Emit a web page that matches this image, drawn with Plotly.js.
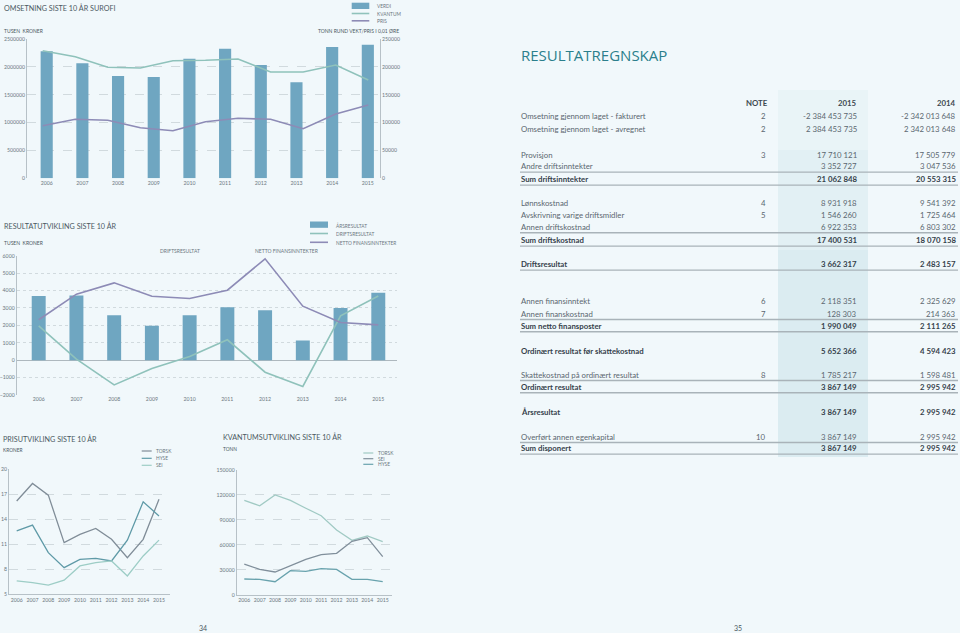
<!DOCTYPE html>
<html>
<head>
<meta charset="utf-8">
<script src="https://cdn.plot.ly/plotly-3.0.1.min.js"></script>
<style>
html,body{margin:0;padding:0;background:#f1f8fb;}
#chart{width:960px;height:633px;}
</style>
</head>
<body>
<div id="chart"></div>
<script>
// ---------- DATA ----------
const years = [2006, 2007, 2008, 2009, 2010, 2011, 2012, 2013, 2014, 2015];
const yearLabels = ['2006','2007','2008','2009','2010','2011','2012','2013','2014','2015'];

// Omsetning siste 10 år Surofi
const verdi = [2279000, 2064000, 1836000, 1818000, 2146000, 2326000, 2033000, 1723000, 2356000, 2398000];
const lineYears = [2006, 2007, 2008, 2009, 2010, 2011, 2012, 2013, 2014, 2015, 2016];
const kvantum = [229000, 218200, 199200, 197900, 211000, 211800, 214100, 190800, 190800, 203400, 176600];
const pris = [94400, 105900, 104100, 90800, 85400, 101600, 107700, 105900, 89000, 115400, 131500];

// Resultatutvikling siste 10 år
const aarsresultat = [3690, 3710, 2580, 1970, 2580, 3040, 2870, 1130, 3000, 3870];
const driftsresultat = [1970, 60, -1420, -480, 210, 1170, -690, -1510, 2550, 3690];
const nettoFinans = [2320, 3790, 4440, 3670, 3540, 4020, 5820, 3100, 2160, 2030];

// Prisutvikling siste 10 år (kroner)
const prisTorsk = [16.2, 18.3, 16.9, 11.2, 12.2, 12.9, 11.6, 9.4, 11.6, 16.4];
const prisHyse = [12.6, 13.3, 10.0, 8.2, 9.2, 9.3, 9.0, 11.5, 16.1, 14.4];
const prisSei = [6.6, 6.4, 6.1, 6.7, 8.4, 8.8, 9.0, 7.2, 9.6, 11.5];

// Kvantumsutvikling siste 10 år (tonn)
const tonnTorsk = [113500, 107000, 120000, 113500, 104000, 95000, 77800, 65400, 70600, 63800];
const tonnSei = [36900, 30500, 27300, 35300, 42500, 48100, 49700, 64200, 68600, 45700];
const tonnHyse = [18900, 18400, 15600, 28900, 28100, 31300, 30500, 18400, 18400, 15600];

// Resultatregnskap
const tableLabels = ['Omsetning gjennom laget - fakturert','Omsetning gjennom laget - avregnet','Provisjon','Andre driftsinntekter','Sum driftsinntekter','Lønnskostnad','Avskrivning varige driftsmidler','Annen driftskostnad','Sum driftskostnad','Driftsresultat','Annen finansinntekt','Annen finanskostnad','Sum netto finansposter','Ordinært resultat før skattekostnad','Skattekostnad på ordinært resultat','Ordinært resultat','Årsresultat','Overført annen egenkapital','Sum disponert'];
const tableNotes = ['2','2','3','','','4','5','','','','6','7','','','8','','','10',''];
const values2015 = [-2384453735, 2384453735, 17710121, 3352727, 21062848, 8931918, 1546260, 6922353, 17400531, 3662317, 2118351, 128303, 1990049, 5652366, 1785217, 3867149, 3867149, 3867149, 3867149];
const values2014 = [-2342013648, 2342013648, 17505779, 3047536, 20553315, 9541392, 1725464, 6803302, 18070158, 2483157, 2325629, 214363, 2111265, 4594423, 1598481, 2995942, 2995942, 2995942, 2995942];

// ---------- LAYOUT HELPERS ----------
const W = 960, H = 633;
const fx = x => x / W;
const fy = y => 1 - y / H;
const FONT = 'Lato, "Open Sans", sans-serif';
const C_BAR = '#6fa6c1';
const C_KV = '#8fc2bb';
const C_PRIS = '#8d8bb6';
const C_TXT = '#4b5862';
const C_TICK = '#6b7780';
const C_GRID = '#c9d2d7';
const C_AXIS = '#b7c1c7';

function fmt(n) {
  const s = Math.abs(n).toString().replace(/\B(?=(\d{3})+(?!\d))/g, ' ');
  return (n < 0 ? '-' : '') + s;
}

const tickFont = {family: FONT, size: 5.2, color: C_TICK};

const traces = [
  // chart 1
  {type: 'bar', x: years, y: verdi, xaxis: 'x', yaxis: 'y', width: 0.34, marker: {color: C_BAR}, name: 'VERDI'},
  {type: 'scatter', mode: 'lines', x: lineYears, y: kvantum, xaxis: 'x2', yaxis: 'y2', line: {color: C_KV, width: 1.6}, name: 'KVANTUM'},
  {type: 'scatter', mode: 'lines', x: lineYears, y: pris, xaxis: 'x2', yaxis: 'y2', line: {color: C_PRIS, width: 1.6}, name: 'PRIS'},
  // chart 2
  {type: 'bar', x: years, y: aarsresultat, xaxis: 'x3', yaxis: 'y3', width: 0.37, marker: {color: C_BAR}, name: 'ÅRSRESULTAT'},
  {type: 'scatter', mode: 'lines', x: years, y: driftsresultat, xaxis: 'x3', yaxis: 'y3', line: {color: C_KV, width: 1.6}, name: 'DRIFTSRESULTAT'},
  {type: 'scatter', mode: 'lines', x: years, y: nettoFinans, xaxis: 'x3', yaxis: 'y3', line: {color: C_PRIS, width: 1.6}, name: 'NETTO FINANSINNTEKTER'},
  // chart 3
  {type: 'scatter', mode: 'lines', x: years, y: prisTorsk, xaxis: 'x4', yaxis: 'y4', line: {color: '#808d98', width: 1.3}, name: 'TORSK'},
  {type: 'scatter', mode: 'lines', x: years, y: prisHyse, xaxis: 'x4', yaxis: 'y4', line: {color: '#5f9aa7', width: 1.3}, name: 'HYSE'},
  {type: 'scatter', mode: 'lines', x: years, y: prisSei, xaxis: 'x4', yaxis: 'y4', line: {color: '#9dcdc6', width: 1.3}, name: 'SEI'},
  // chart 4
  {type: 'scatter', mode: 'lines', x: years, y: tonnTorsk, xaxis: 'x5', yaxis: 'y5', line: {color: '#a1cac4', width: 1.3}, name: 'TORSK'},
  {type: 'scatter', mode: 'lines', x: years, y: tonnSei, xaxis: 'x5', yaxis: 'y5', line: {color: '#808f9b', width: 1.3}, name: 'SEI'},
  {type: 'scatter', mode: 'lines', x: years, y: tonnHyse, xaxis: 'x5', yaxis: 'y5', line: {color: '#68a2ad', width: 1.3}, name: 'HYSE'}
];

const xBase = {tickvals: years, ticktext: yearLabels, showgrid: false, zeroline: false, ticks: '', tickfont: tickFont, fixedrange: true};
const yBase = {showgrid: true, gridcolor: C_GRID, griddash: 'dash', gridwidth: 0.8, zeroline: false, showline: true, linecolor: C_AXIS, linewidth: 1, ticks: '', tickfont: tickFont, tickformat: 'd', fixedrange: true};

const layout = {
  width: W, height: H,
  margin: {l: 0, r: 0, t: 0, b: 0},
  paper_bgcolor: '#f1f8fb',
  plot_bgcolor: 'rgba(0,0,0,0)',
  showlegend: false,
  font: {family: FONT},
  xaxis: Object.assign({}, xBase, {domain: [fx(27), fx(380)], range: [2005.448, 2015.341], anchor: 'y'}),
  yaxis: Object.assign({}, yBase, {domain: [fy(178.3), fy(39)], range: [0, 2500000], dtick: 500000, anchor: 'x'}),
  xaxis2: {overlaying: 'x', anchor: 'y2', range: [2005.518, 2016.36], visible: false, fixedrange: true},
  yaxis2: Object.assign({}, yBase, {overlaying: 'y', side: 'right', anchor: 'x', range: [0, 250000], dtick: 50000, showgrid: false}),
  xaxis3: Object.assign({}, xBase, {domain: [fx(16.7), fx(396.7)], range: [2005.417, 2015.488], anchor: 'y3'}),
  yaxis3: Object.assign({}, yBase, {domain: [fy(395), fy(255.7)], range: [-2000, 6000], dtick: 1000, griddash: 'dot', zeroline: true, zerolinecolor: '#aeb8be', zerolinewidth: 1, anchor: 'x3'}),
  xaxis4: Object.assign({}, xBase, {domain: [fx(9), fx(170)], range: [2005.513, 2015.696], anchor: 'y4', showline: true, linecolor: C_AXIS}),
  yaxis4: Object.assign({}, yBase, {domain: [fy(594.3), fy(469.3)], range: [5, 20], tickvals: [5, 8, 11, 14, 17, 20], anchor: 'x4'}),
  xaxis5: Object.assign({}, xBase, {domain: [fx(236.7), fx(391.7)], range: [2005.506, 2015.584], anchor: 'y5', showline: true, linecolor: C_AXIS}),
  yaxis5: Object.assign({}, yBase, {domain: [fy(594.7), fy(470)], range: [0, 150000], dtick: 30000, anchor: 'x5'}),
  shapes: [],
  annotations: []
};

function txt(x, y, text, opts) {
  opts = opts || {};
  layout.annotations.push({
    xref: 'paper', yref: 'paper', x: fx(x), y: fy(y), text: text, showarrow: false,
    xanchor: opts.xanchor || 'left', yanchor: 'middle',
    font: {family: opts.family || FONT, size: opts.size || 5, color: opts.color || C_TICK},
    borderpad: 0
  });
}
function hline(x0, x1, y, color, width) {
  layout.shapes.push({type: 'line', xref: 'paper', yref: 'paper', x0: fx(x0), x1: fx(x1), y0: fy(y), y1: fy(y), line: {color: color, width: width}});
}
function rect(x0, x1, y0, y1, color) {
  layout.shapes.push({type: 'rect', xref: 'paper', yref: 'paper', x0: fx(x0), x1: fx(x1), y0: fy(y1), y1: fy(y0), fillcolor: color, line: {width: 0}, layer: 'below'});
}

// ---------- CHART 1 texts ----------
txt(3, 8, 'OMSETNING SISTE 10 ÅR SUROFI', {size: 7.2, color: C_TXT});
txt(3, 31, 'TUSEN  KRONER', {size: 5, color: C_TXT});
txt(400, 31, 'TONN RUND VEKT/PRIS I 0,01 ØRE', {size: 5, color: C_TXT, xanchor: 'right'});
rect(351.7, 369.3, 2.7, 9, C_BAR);
hline(351.7, 369.3, 13.5, C_KV, 1.6);
hline(351.7, 369.3, 20.8, C_PRIS, 1.6);
txt(376, 6.2, 'VERDI', {size: 4.8});
txt(376, 13.6, 'KVANTUM', {size: 4.8});
txt(376, 20.8, 'PRIS', {size: 4.8});

// ---------- CHART 2 texts ----------
txt(3, 225.7, 'RESULTATUTVIKLING SISTE 10 ÅR', {size: 7.2, color: C_TXT});
txt(3, 243.3, 'TUSEN  KRONER', {size: 5, color: C_TXT});
rect(310, 328, 221.5, 227.8, C_BAR);
hline(310, 328, 233.5, C_KV, 1.6);
hline(310, 328, 242.3, C_PRIS, 1.6);
txt(335, 225.3, 'ÅRSRESULTAT', {size: 4.8});
txt(335, 234, 'DRIFTSRESULTAT', {size: 4.8});
txt(335, 242.8, 'NETTO FINANSINNTEKTER', {size: 4.8});
txt(180, 251, 'DRIFTSRESULTAT', {size: 5, xanchor: 'center'});
txt(287, 251, 'NETTO FINANSINNTEKTER', {size: 5, xanchor: 'center'});

// ---------- CHART 3 texts ----------
txt(2, 439, 'PRISUTVIKLING SISTE 10 ÅR', {size: 7.2, color: C_TXT});
txt(2, 449.5, 'KRONER', {size: 4.8, color: C_TXT});
hline(141.7, 151.7, 451, '#808d98', 1.2);
hline(141.7, 151.7, 458.3, '#5f9aa7', 1.2);
hline(141.7, 151.7, 465.3, '#9dcdc6', 1.2);
txt(154.5, 451, 'TORSK', {size: 4.8});
txt(154.5, 458.3, 'HYSE', {size: 4.8});
txt(154.5, 465.3, 'SEI', {size: 4.8});

// ---------- CHART 4 texts ----------
txt(221.7, 437.3, 'KVANTUMSUTVIKLING SISTE 10 ÅR', {size: 7.2, color: C_TXT});
txt(221.7, 449, 'TONN', {size: 4.8, color: C_TXT});
hline(363.3, 373.3, 453, '#a1cac4', 1.2);
hline(363.3, 373.3, 458.7, '#808f9b', 1.2);
hline(363.3, 373.3, 464.3, '#68a2ad', 1.2);
txt(376.7, 453, 'TORSK', {size: 4.8});
txt(376.7, 458.7, 'SEI', {size: 4.8});
txt(376.7, 464.3, 'HYSE', {size: 4.8});

// page numbers
txt(203, 628, '34', {size: 7, color: C_TXT, xanchor: 'center'});
txt(738, 628, '35', {size: 7, color: C_TXT, xanchor: 'center'});

// ---------- TABLE ----------
const rowY = [115.7, 129, 155, 166.3, 179.3, 203.3, 214.7, 227, 240.3, 264.3, 300.7, 313.7, 326, 351, 374.7, 387, 411.7, 436.7, 448.3];
const boldRows = [4, 8, 9, 12, 13, 15, 16, 18];
const rulesUnder = [3, 4, 7, 8, 9, 11, 12, 14, 15, 17, 18];

rect(778, 868, 90, 150, '#e9f4f7');
rect(778, 868, 150, 250, '#e2f0f4');
rect(778, 868, 250, 457, '#dbecf1');

txt(520, 55, 'RESULTATREGNSKAP', {size: 15, color: '#2b7f8c', family: '"Open Sans", Lato, sans-serif'});
txt(769, 103.5, '<b>NOTE</b>', {size: 7.8, color: '#3d4850', xanchor: 'right'});
txt(858, 103.5, '<b>2015</b>', {size: 7.8, color: '#3d4850', xanchor: 'right'});
txt(957, 103.5, '<b>2014</b>', {size: 7.8, color: '#3d4850', xanchor: 'right'});

rulesUnder.forEach(i => hline(520, 958, rowY[i] + 5.8, '#a9b3b9', 1.4));

tableLabels.forEach((lab, i) => {
  const b = boldRows.indexOf(i) >= 0;
  const col = b ? '#36424b' : '#5b6770';
  const w = s => b ? '<b>' + s + '</b>' : s;
  txt(520, rowY[i], w(lab), {size: 7.8, color: col});
  if (tableNotes[i]) txt(767, rowY[i], tableNotes[i], {size: 7.8, color: col, xanchor: 'right'});
  txt(858, rowY[i], w(fmt(values2015[i])), {size: 7.8, color: col, xanchor: 'right'});
  txt(957, rowY[i], w(fmt(values2014[i])), {size: 7.8, color: col, xanchor: 'right'});
});

Plotly.newPlot('chart', traces, layout, {displayModeBar: false, staticPlot: true});
</script>
</body>
</html>
